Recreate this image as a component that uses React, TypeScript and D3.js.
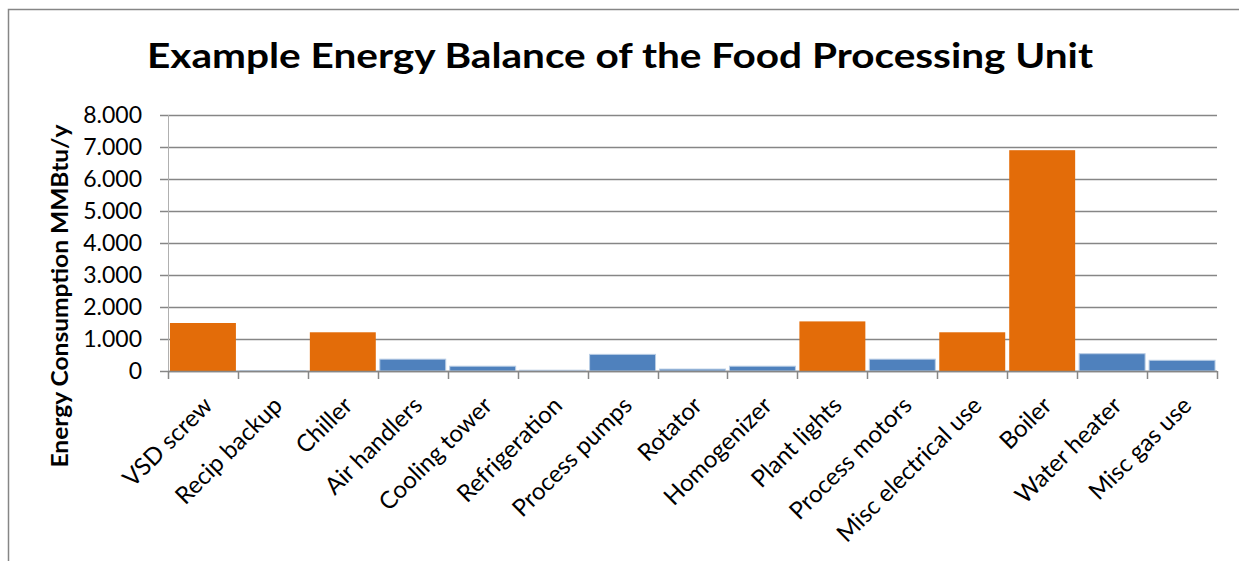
import React, { useEffect, useRef } from "react"
import * as d3 from "d3"

// categories and values (MMBtu/y)
const categories = [
  "VSD screw",
  "Recip backup",
  "Chiller",
  "Air handlers",
  "Cooling tower",
  "Refrigeration",
  "Process pumps",
  "Rotator",
  "Homogenizer",
  "Plant lights",
  "Process motors",
  "Misc electrical use",
  "Boiler",
  "Water heater",
  "Misc gas use",
]
const values = [1500, 5, 1210, 370, 150, 25, 520, 60, 150, 1550, 370, 1210, 6900, 540, 335]
const orangeCategories = ["VSD screw", "Chiller", "Plant lights", "Misc electrical use", "Boiler"]
const yTicks = [0, 1000, 2000, 3000, 4000, 5000, 6000, 7000, 8000]

const title = "Example Energy Balance of the Food Processing Unit"
const yTitle = "Energy Consumption MMBtu/y"

const WIDTH = 1239
const HEIGHT = 561
const FONT = "Lato, 'Open Sans', sans-serif"
const GRID = "#868686"

const drawChart = (wrapper) => {
  d3.select(wrapper).selectAll("*").remove()

  const svg = d3
    .select(wrapper)
    .append("svg")
    .attr("width", WIDTH)
    .attr("height", HEIGHT)
    .style("position", "absolute")
    .style("left", 0)
    .style("top", 0)
    .style("background", "#fff")

  // chart frame (only left and top edges are in view)
  svg
    .append("path")
    .attr("d", `M8.5,${HEIGHT} V9.5 H${WIDTH}`)
    .attr("fill", "none")
    .attr("stroke", GRID)
    .attr("stroke-width", 1.5)

  const left = 168
  const right = 1217
  const top = 115
  const bottom = 371

  const x = d3.scaleBand().domain(categories).range([left, right]).paddingInner(0.057).paddingOuter(0.028)
  const y = d3.scaleLinear().domain([0, 8000]).range([bottom, top])

  const fmt = d3.formatLocale({ decimal: ",", thousands: ".", grouping: [3], currency: ["", ""] }).format(",.0f")

  // gridlines
  svg
    .append("g")
    .selectAll("line")
    .data(yTicks)
    .enter()
    .append("line")
    .attr("x1", left - 8)
    .attr("x2", right)
    .attr("y1", d => Math.round(y(d)) + 0.5)
    .attr("y2", d => Math.round(y(d)) + 0.5)
    .attr("stroke", GRID)
    .attr("stroke-width", 1.5)

  // vertical axis line
  svg
    .append("line")
    .attr("x1", left + 0.5)
    .attr("x2", left + 0.5)
    .attr("y1", top)
    .attr("y2", bottom)
    .attr("stroke", "#b0b0b0")
    .attr("stroke-width", 1)

  // y tick labels
  svg
    .append("g")
    .selectAll("text")
    .data(yTicks)
    .enter()
    .append("text")
    .attr("x", 142)
    .attr("y", d => y(d))
    .attr("dy", "0.35em")
    .attr("text-anchor", "end")
    .style("font-family", FONT)
    .style("font-size", "23px")
    .text(d => fmt(d))

  // bars
  svg
    .append("g")
    .selectAll("rect")
    .data(categories)
    .enter()
    .append("rect")
    .attr("x", d => x(d))
    .attr("width", x.bandwidth())
    .attr("y", (d, i) => y(values[i]))
    .attr("height", (d, i) => bottom - y(values[i]))
    .attr("fill", d => (orangeCategories.includes(d) ? "#E36C09" : "#4F81BD"))
    .attr("stroke", d => (orangeCategories.includes(d) ? "none" : "#b9cde5"))
    .attr("stroke-width", 1)

  // category axis baseline + ticks between categories
  svg
    .append("line")
    .attr("x1", left)
    .attr("x2", right)
    .attr("y1", bottom + 0.5)
    .attr("y2", bottom + 0.5)
    .attr("stroke", GRID)
    .attr("stroke-width", 1.5)

  const boundaries = d3.range(categories.length + 1).map(i => left + i * ((right - left) / categories.length))
  svg
    .append("g")
    .selectAll("line")
    .data(boundaries)
    .enter()
    .append("line")
    .attr("x1", d => Math.round(d) + 0.5)
    .attr("x2", d => Math.round(d) + 0.5)
    .attr("y1", bottom)
    .attr("y2", bottom + 8)
    .attr("stroke", GRID)
    .attr("stroke-width", 1.5)

  // rotated category labels
  svg
    .append("g")
    .selectAll("text")
    .data(categories)
    .enter()
    .append("text")
    .attr("transform", d => `translate(${x(d) + x.bandwidth() / 2 + 11},${bottom + 36}) rotate(-45)`)
    .attr("text-anchor", "end")
    .style("font-family", FONT)
    .style("font-size", "24px")
    .text(d => d)

  // title
  svg
    .append("text")
    .attr("x", 620)
    .attr("y", 68)
    .attr("text-anchor", "middle")
    .style("font-family", FONT)
    .style("font-weight", "bold")
    .style("font-size", "34px")
    .attr("textLength", 946)
    .attr("lengthAdjust", "spacingAndGlyphs")
    .text(title)

  // y axis title
  svg
    .append("text")
    .attr("transform", "translate(68,296) rotate(-90)")
    .attr("text-anchor", "middle")
    .style("font-family", FONT)
    .style("font-weight", "bold")
    .style("font-size", "23px")
    .attr("textLength", 343)
    .attr("lengthAdjust", "spacingAndGlyphs")
    .text(yTitle)
}

export default function App() {
  const chart = useRef(null)
  useEffect(() => {
    drawChart(chart.current)
  }, [])

  return <div ref={chart}></div>
}
